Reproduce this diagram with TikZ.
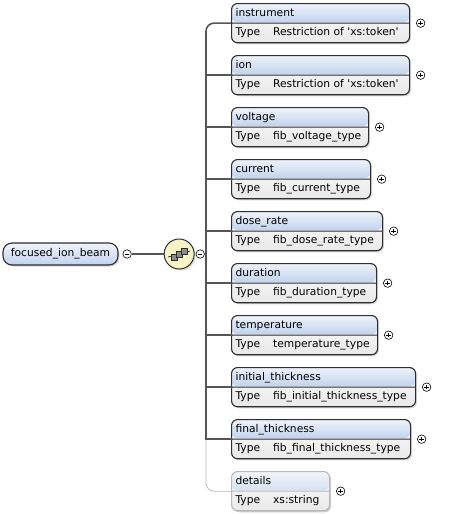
\documentclass[tikz,border=0pt]{standalone}
\usepackage{fontspec}
\setmainfont{DejaVu Sans}
\usetikzlibrary{shapes.multipart,shadows,positioning}

\definecolor{hdrtop}{HTML}{EFF3FB}
\definecolor{hdrbottom}{HTML}{C2D3EF}
\definecolor{paletop}{HTML}{F3F6FB}
\definecolor{palebottom}{HTML}{D6E1F3}
\definecolor{rowtop}{HTML}{FCFCFC}
\definecolor{rowbottom}{HTML}{E9E9E9}
\definecolor{edgedark}{HTML}{2E2E2E}
\definecolor{trunkgray}{HTML}{555555}
\definecolor{optgray}{HTML}{B8B8B8}
\definecolor{seqyellow}{HTML}{F8F3C6}
\definecolor{icongray}{HTML}{8C8C8C}

\newcommand{\rowstrut}{\rule[-3pt]{0pt}{11.5pt}}
\newcommand{\typerow}[1]{\rowstrut Type\hspace{13pt}#1}
\newcommand{\tq}{\textquotesingle}

\tikzstyle{element} = [rectangle split, rectangle split parts=2, rectangle split part align={left}, rounded corners=6pt, draw=edgedark, line width=1.1pt, inner xsep=4pt, inner ysep=3.5pt, anchor=north west, font=\fontsize{10.7}{12}\selectfont, drop shadow={shadow xshift=1.5pt, shadow yshift=-1.5pt, opacity=0.3},
	path picture={\shade[top color=rowtop, bottom color=rowbottom] (path picture bounding box.north west) rectangle (path picture bounding box.south east);
		\shade[top color=hdrtop, bottom color=hdrbottom] (path picture bounding box.north west) rectangle ([yshift=-18.5pt]path picture bounding box.north east);}]
\tikzstyle{optelement} = [element, draw=optgray, drop shadow={shadow xshift=1.5pt, shadow yshift=-1.5pt, opacity=0.12},
	path picture={\shade[top color=rowtop, bottom color=rowbottom] (path picture bounding box.north west) rectangle (path picture bounding box.south east);
		\shade[top color=paletop, bottom color=palebottom] (path picture bounding box.north west) rectangle ([yshift=-18.5pt]path picture bounding box.north east);}]
\tikzstyle{rootnode} = [rectangle, rounded corners=9pt, draw=edgedark, line width=1.1pt, top color=hdrtop, bottom color=hdrbottom, minimum width=115pt, minimum height=22pt, inner sep=0pt, font=\fontsize{10.7}{12}\selectfont, drop shadow={shadow xshift=1.5pt, shadow yshift=-1.5pt, opacity=0.3}]
\tikzstyle{compositor} = [circle, draw=edgedark, line width=1pt, fill=seqyellow, minimum size=30pt, inner sep=0pt, drop shadow={shadow xshift=1.5pt, shadow yshift=-1.5pt, opacity=0.3}]
\tikzstyle{expander} = [circle, draw=black, line width=0.6pt, fill=white, inner sep=0pt, minimum size=8.5pt]
\tikzstyle{plus} = [expander, path picture={\draw[line width=0.6pt] ([xshift=2pt]path picture bounding box.west) -- ([xshift=-2pt]path picture bounding box.east) ([yshift=-2pt]path picture bounding box.north) -- ([yshift=2pt]path picture bounding box.south);}]
\tikzstyle{minus} = [expander, path picture={\draw[line width=0.6pt] ([xshift=2pt]path picture bounding box.west) -- ([xshift=-2pt]path picture bounding box.east);}]
\tikzstyle{branch} = [draw=trunkgray, line width=1.6pt, line cap=rect]
\tikzstyle{link} = [draw=trunkgray, line width=1.2pt]
\tikzstyle{optbranch} = [draw=optgray, line width=0.8pt]

\begin{document}
\begin{tikzpicture}[x=1pt, y=-1pt]
	\useasboundingbox (0,0) rectangle (449,514);

	% root and compositor
	\node (root) [rootnode] at (60.5,254) {focused\_ion\_beam};
	\node (root-minus) [minus, right=4pt of root] {};
	\node (seq) [compositor, right=32pt of root-minus] {};
	\node (seq-minus) [minus, right=1pt of seq] {};
	\coordinate (trunk) at (206,254);

	% sequence icon
	\draw[line width=0.6pt] ([shift={(-11pt,-3pt)}]seq.center) -- ([shift={(11pt,3pt)}]seq.center);
	\foreach \dx/\dy in {-5/-3, 0/0, 5/3}
		\draw[fill=icongray, draw=edgedark, line width=0.5pt] ([shift={(\dx pt-3pt,\dy pt-3pt)}]seq.center) rectangle ([shift={(\dx pt+3pt,\dy pt+3pt)}]seq.center);

	% child elements
	\node (instrument) [element, minimum width=178pt] at (231,3) {\rowstrut instrument \nodepart{two}\typerow{Restriction of \tq xs:token\tq}};
	\node (ion) [element, minimum width=178pt] at (231,55) {\rowstrut ion \nodepart{two}\typerow{Restriction of \tq xs:token\tq}};
	\node (voltage) [element, minimum width=137pt] at (231,107) {\rowstrut voltage \nodepart{two}\typerow{fib\_voltage\_type}};
	\node (current) [element, minimum width=139pt] at (231,159) {\rowstrut current \nodepart{two}\typerow{fib\_current\_type}};
	\node (dose_rate) [element, minimum width=151pt] at (231,211) {\rowstrut dose\_rate \nodepart{two}\typerow{fib\_dose\_rate\_type}};
	\node (duration) [element, minimum width=145pt] at (231,263) {\rowstrut duration \nodepart{two}\typerow{fib\_duration\_type}};
	\node (temperature) [element, minimum width=146pt] at (231,315) {\rowstrut temperature \nodepart{two}\typerow{temperature\_type}};
	\node (initial_thickness) [element, minimum width=184pt] at (231,367) {\rowstrut initial\_thickness \nodepart{two}\typerow{fib\_initial\_thickness\_type}};
	\node (final_thickness) [element, minimum width=179pt] at (231,419) {\rowstrut final\_thickness \nodepart{two}\typerow{fib\_final\_thickness\_type}};
	\node (details) [optelement, minimum width=98pt] at (231,471) {\rowstrut details \nodepart{two}\typerow{xs:string}};

	% expanders
	\node (instrument-plus) [plus, right=6pt of instrument] {};
	\node (ion-plus) [plus, right=6pt of ion] {};
	\node (voltage-plus) [plus, right=6pt of voltage] {};
	\node (current-plus) [plus, right=6pt of current] {};
	\node (dose_rate-plus) [plus, right=6pt of dose_rate] {};
	\node (duration-plus) [plus, right=6pt of duration] {};
	\node (temperature-plus) [plus, right=6pt of temperature] {};
	\node (initial_thickness-plus) [plus, right=6pt of initial_thickness] {};
	\node (final_thickness-plus) [plus, right=6pt of final_thickness] {};
	\node (details-plus) [plus, right=6pt of details] {};

	% connectors
	\draw [link] (root-minus) -- (seq);
	\draw [link] (seq-minus) -- (trunk);
	\draw [optbranch, rounded corners=8pt] (trunk |- final_thickness.west) |- (details.west);
	\draw [branch, line cap=butt, rounded corners=8pt] (instrument.west) -| (trunk |- final_thickness.west);
	\draw [branch] (trunk |- ion.west) -- (ion.west);
	\draw [branch] (trunk |- voltage.west) -- (voltage.west);
	\draw [branch] (trunk |- current.west) -- (current.west);
	\draw [branch] (trunk |- dose_rate.west) -- (dose_rate.west);
	\draw [branch] (trunk |- duration.west) -- (duration.west);
	\draw [branch] (trunk |- temperature.west) -- (temperature.west);
	\draw [branch] (trunk |- initial_thickness.west) -- (initial_thickness.west);
	\draw [branch] (trunk |- final_thickness.west) -- (final_thickness.west);
\end{tikzpicture}
\end{document}
